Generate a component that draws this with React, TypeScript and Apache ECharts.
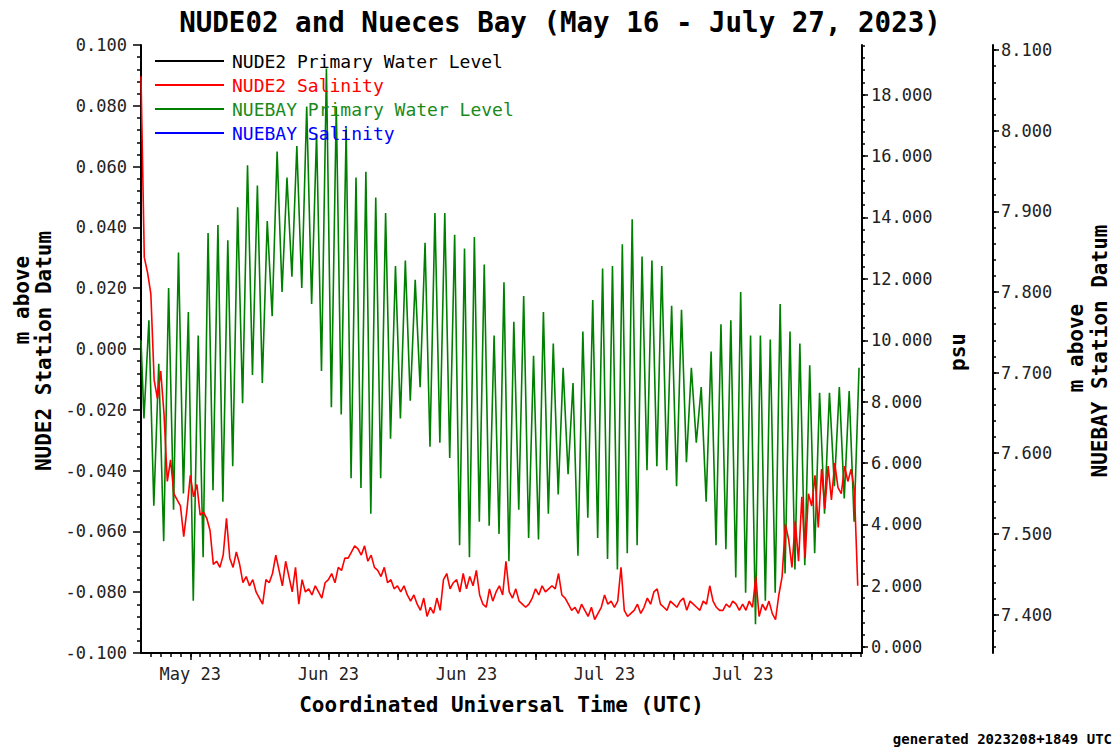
import React, { useEffect, useRef } from "react";
import * as echarts from "echarts";

// ---- data (days since 2023-05-16 00:00 UTC) ----
const TITLE = "NUDE02 and Nueces Bay (May 16 - July 27, 2023)";
const X_LABEL_DAYS = [5, 19, 33, 47, 61];
const X_LABELS = ["May 23", "Jun 23", "Jun 23", "Jul 23", "Jul 23"];
const X_MAX_DAYS = 73.1;

const LEFT_TICKS_MIN = -0.1;
const LEFT_TICKS_MAX = 0.1;
const PSU_MIN = -0.19;
const PSU_MAX = 19.62;
const PSU_TICKS = [0, 2, 4, 6, 8, 10, 12, 14, 16, 18];
const NUEBAY_MIN = 7.3523;
const NUEBAY_MAX = 8.1062;
const NUEBAY_TICKS = [7.4, 7.5, 7.6, 7.7, 7.8, 7.9, 8.0, 8.1];

// NUDE2 salinity (psu), sampled every 8 hours from May 16 00:00
const SAL_SAMPLES_PER_DAY = 3;
const NUDE2_SALINITY = [
  18.6, 12.7, 12.2, 11.5, 8.7, 8.1, 9.0, 7.6, 5.4, 6.1, 5.0, 4.8,
  4.6, 3.6, 4.5, 5.6, 4.9, 5.3, 4.3, 4.4, 4.2, 3.8, 2.7, 2.8,
  2.6, 3.0, 4.2, 2.9, 2.6, 3.1, 2.7, 2.1, 2.3, 2.0, 2.2, 1.8,
  1.6, 1.4, 2.2, 2.1, 2.4, 3.0, 2.5, 2.0, 2.8, 2.3, 1.8, 2.6,
  1.4, 2.2, 1.8, 1.9, 1.7, 2.0, 1.8, 1.6, 2.1, 2.2, 2.4, 2.1,
  2.6, 2.5, 2.9, 2.9, 3.1, 3.3, 3.2, 3.0, 3.3, 2.8, 3.0, 2.6,
  2.5, 2.3, 2.6, 2.1, 2.2, 1.9, 2.0, 1.8, 2.0, 1.7, 1.5, 1.7,
  1.4, 1.2, 1.6, 1.0, 1.3, 1.1, 1.6, 1.2, 2.2, 2.4, 1.9, 2.1,
  2.2, 1.8, 2.4, 1.9, 2.3, 2.0, 2.5, 1.7, 1.4, 1.3, 1.9, 1.5,
  1.8, 2.0, 1.7, 2.8, 1.8, 1.6, 1.9, 1.5, 1.4, 1.3, 1.4, 1.6,
  1.9, 1.7, 2.0, 1.8, 1.9, 2.0, 1.9, 2.4, 1.7, 1.6, 1.4, 1.2,
  1.3, 1.1, 1.4, 1.2, 1.0, 1.3, 0.9, 1.1, 1.3, 1.7, 1.4, 1.5,
  1.3, 1.5, 2.6, 1.2, 1.0, 1.1, 1.2, 1.4, 1.1, 1.3, 1.6, 1.4,
  1.8, 1.9, 1.4, 1.3, 1.2, 1.5, 1.4, 1.3, 1.5, 1.6, 1.2, 1.5,
  1.4, 1.3, 1.2, 1.5, 1.4, 2.0, 1.5, 1.3, 1.2, 1.2, 1.4, 1.3,
  1.5, 1.4, 1.2, 1.4, 1.2, 1.5, 1.3, 2.3, 1.0, 1.4, 1.2, 1.5,
  1.1, 0.9, 1.7, 2.3, 4.0, 3.5, 2.6, 4.1, 2.8, 4.9, 2.9, 5.0,
  4.6, 5.6, 3.9, 5.8, 4.5, 5.9, 4.8, 6.0, 5.2, 5.0, 5.9, 5.4,
  5.8, 5.1, 2.0,
];

// NUEBAY primary water level (m above station datum): start, daily lows and highs
const NUEBAY_START = 7.74;
const LOW_TIME_OF_DAY = 0.3;
const HIGH_TIME_OF_DAY = 0.8;
const NUEBAY_DAILY_LOW = [
  7.643, 7.535, 7.491, 7.53, 7.55, 7.417, 7.471, 7.554, 7.54, 7.584,
  7.662, 7.697, 7.687, 7.77, 7.8, 7.819, 7.805, 7.785, 7.702, 7.657,
  7.648, 7.569, 7.557, 7.525, 7.569, 7.618, 7.643, 7.665, 7.682, 7.608,
  7.613, 7.594, 7.486, 7.471, 7.515, 7.51, 7.5, 7.466, 7.53, 7.495,
  7.493, 7.525, 7.549, 7.574, 7.473, 7.52, 7.495, 7.469, 7.456, 7.476,
  7.486, 7.579, 7.584, 7.579, 7.559, 7.589, 7.613, 7.54, 7.486, 7.481,
  7.446, 7.427, 7.388, 7.417, 7.427, 7.451, 7.456, 7.461, 7.476, 7.525,
  7.559, 7.544, 7.515,
];
const NUEBAY_DAILY_HIGH = [
  7.765, 7.711, 7.805, 7.849, 7.775, 7.746, 7.873, 7.883, 7.864, 7.905,
  7.957, 7.932, 7.888, 7.974, 7.942, 7.981, 8.03, 7.996, 8.077, 8.03,
  8.003, 7.942, 7.949, 7.917, 7.898, 7.832, 7.839, 7.815, 7.861, 7.898,
  7.898, 7.871, 7.854, 7.868, 7.834, 7.746, 7.812, 7.763, 7.795, 7.721,
  7.775, 7.736, 7.706, 7.687, 7.751, 7.79, 7.829, 7.832, 7.859, 7.89,
  7.844, 7.839, 7.832, 7.783, 7.778, 7.706, 7.682, 7.726, 7.76, 7.765,
  7.8, 7.746, 7.746, 7.741, 7.785, 7.751, 7.736, 7.709, 7.675, 7.675,
  7.682, 7.677, 7.706,
];

const MONO = "DejaVu Sans Mono";

function fmt3(v: number) {
  if (Math.abs(v) < 1e-9) return "0.000";
  return v.toFixed(3);
}

export default function App() {
  const ref = useRef<HTMLDivElement>(null);

  useEffect(() => {
    if (!ref.current) return;
    const chart = echarts.init(ref.current, undefined, { renderer: "svg" });

    const salData = NUDE2_SALINITY.map((v, i) => [i / SAL_SAMPLES_PER_DAY, v]);
    const wlData: number[][] = [[0, NUEBAY_START]];
    for (let d = 0; d < NUEBAY_DAILY_LOW.length; d++) {
      wlData.push([d + LOW_TIME_OF_DAY, NUEBAY_DAILY_LOW[d]]);
      wlData.push([d + HIGH_TIME_OF_DAY, NUEBAY_DAILY_HIGH[d]]);
    }

    const weekTicks: number[] = [];
    for (let d = 5; d <= 73; d += 7) weekTicks.push(d);
    const dayTicks: number[] = [];
    for (let d = 1; d <= 73; d++) dayTicks.push(d);
    const psuMinor: number[] = [];
    for (let k = 0; k <= 49; k++) psuMinor.push((k * 4) / 10);
    const nbMinor: number[] = [];
    for (let k = 0; k <= 37; k++) nbMinor.push((736 + 2 * k) / 100);

    const black = "#000";
    const tickLabel = { fontFamily: MONO, fontSize: 17, color: "#222" };
    const axisLineOn = { show: true, onZero: false, lineStyle: { color: black, width: 2 } };
    const axisLineOff = { show: false, onZero: false };

    chart.setOption({
      animation: false,
      backgroundColor: "#fff",
      title: {
        text: TITLE,
        left: "center",
        top: 3,
        textStyle: { fontFamily: MONO, fontWeight: "bold", fontSize: 27.5, color: "#000" },
      },
      legend: {
        orient: "vertical",
        left: 150,
        top: 47,
        icon: "rect",
        itemWidth: 69,
        itemHeight: 2,
        itemGap: 6,
        selectedMode: false,
        textStyle: { fontFamily: MONO, fontSize: 18, lineHeight: 18, padding: [0, 0, 0, 3] },
        data: [
          { name: "NUDE2 Primary Water Level", textStyle: { color: "#000" } },
          { name: "NUDE2 Salinity", textStyle: { color: "#ff0000" } },
          { name: "NUEBAY Primary Water Level", textStyle: { color: "#1a8a1a" } },
          { name: "NUEBAY Salinity", textStyle: { color: "#0000ff" } },
        ],
      },
      grid: { left: 141, top: 45, width: 721, height: 608 },
      xAxis: [
        {
          type: "value",
          min: 0,
          max: X_MAX_DAYS,
          position: "bottom",
          name: "Coordinated Universal Time (UTC)",
          nameLocation: "middle",
          nameGap: 41,
          nameTextStyle: { fontFamily: MONO, fontWeight: "bold", fontSize: 21, color: "#000" },
          splitLine: { show: false },
          axisLine: axisLineOn,
          axisTick: { show: true, customValues: weekTicks, length: 7, lineStyle: { color: black, width: 1.5 } },
          axisLabel: {
            ...tickLabel,
            margin: 12,
            customValues: X_LABEL_DAYS,
            formatter: (v: number) => {
              const i = X_LABEL_DAYS.indexOf(Math.round(v));
              return i >= 0 ? X_LABELS[i] : "";
            },
          },
        },
        {
          type: "value",
          min: 0,
          max: X_MAX_DAYS,
          position: "bottom",
          splitLine: { show: false },
          axisLine: axisLineOff,
          axisTick: { show: true, customValues: dayTicks, length: 4, lineStyle: { color: black, width: 1.5 } },
          axisLabel: { show: false },
        },
      ],
      yAxis: [
        {
          type: "value",
          position: "left",
          min: LEFT_TICKS_MIN,
          max: LEFT_TICKS_MAX,
          interval: 0.02,
          splitLine: { show: false },
          axisLine: axisLineOn,
          axisTick: { show: true, length: 8, lineStyle: { color: black, width: 1.5 } },
          minorTick: { show: true, splitNumber: 5, length: 4, lineStyle: { color: black, width: 1.5 } },
          axisLabel: { ...tickLabel, margin: 14, formatter: (v: number) => fmt3(v) },
        },
        {
          type: "value",
          position: "right",
          offset: 0,
          min: PSU_MIN,
          max: PSU_MAX,
          splitLine: { show: false },
          axisLine: axisLineOn,
          axisTick: { show: true, customValues: PSU_TICKS, length: 6, lineStyle: { color: black, width: 1.5 } },
          axisLabel: { ...tickLabel, margin: 9, customValues: PSU_TICKS, formatter: (v: number) => fmt3(v) },
        },
        {
          type: "value",
          position: "right",
          offset: 0,
          min: PSU_MIN,
          max: PSU_MAX,
          splitLine: { show: false },
          axisLine: axisLineOff,
          axisTick: { show: true, customValues: psuMinor, length: 3, lineStyle: { color: black, width: 1.5 } },
          axisLabel: { show: false },
        },
        {
          type: "value",
          position: "right",
          offset: 131,
          min: NUEBAY_MIN,
          max: NUEBAY_MAX,
          splitLine: { show: false },
          axisLine: axisLineOn,
          axisTick: { show: true, customValues: NUEBAY_TICKS, length: 6, lineStyle: { color: black, width: 1.5 } },
          axisLabel: { ...tickLabel, margin: 8, customValues: NUEBAY_TICKS, formatter: (v: number) => fmt3(v) },
        },
        {
          type: "value",
          position: "right",
          offset: 131,
          min: NUEBAY_MIN,
          max: NUEBAY_MAX,
          splitLine: { show: false },
          axisLine: axisLineOff,
          axisTick: { show: true, customValues: nbMinor, length: 3, lineStyle: { color: black, width: 1.5 } },
          axisLabel: { show: false },
        },
      ],
      series: [
        {
          name: "NUDE2 Primary Water Level",
          type: "line",
          yAxisIndex: 0,
          symbol: "none",
          data: [],
          lineStyle: { color: "#000", width: 1.5 },
          itemStyle: { color: "#000" },
        },
        {
          name: "NUEBAY Primary Water Level",
          type: "line",
          yAxisIndex: 3,
          symbol: "none",
          data: wlData,
          lineStyle: { color: "#008000", width: 1.6 },
          itemStyle: { color: "#008000" },
        },
        {
          name: "NUDE2 Salinity",
          type: "line",
          yAxisIndex: 1,
          symbol: "none",
          data: salData,
          lineStyle: { color: "#ff0000", width: 1.6 },
          itemStyle: { color: "#ff0000" },
        },
        {
          name: "NUEBAY Salinity",
          type: "line",
          yAxisIndex: 1,
          symbol: "none",
          data: [],
          lineStyle: { color: "#0000ff", width: 1.5 },
          itemStyle: { color: "#0000ff" },
        },
      ],
      graphic: [
        {
          type: "text",
          x: 22,
          y: 300,
          rotation: Math.PI / 2,
          style: { text: "m above", fontFamily: MONO, fontWeight: "bold", fontSize: 21, fill: "#000", align: "center", verticalAlign: "middle" },
        },
        {
          type: "text",
          x: 44,
          y: 351,
          rotation: Math.PI / 2,
          style: { text: "NUDE2 Station Datum", fontFamily: MONO, fontWeight: "bold", fontSize: 21, fill: "#000", align: "center", verticalAlign: "middle" },
        },
        {
          type: "text",
          x: 958,
          y: 352,
          rotation: Math.PI / 2,
          style: { text: "psu", fontFamily: MONO, fontWeight: "bold", fontSize: 21, fill: "#000", align: "center", verticalAlign: "middle" },
        },
        {
          type: "text",
          x: 1076,
          y: 348,
          rotation: Math.PI / 2,
          style: { text: "m above", fontFamily: MONO, fontWeight: "bold", fontSize: 21, fill: "#000", align: "center", verticalAlign: "middle" },
        },
        {
          type: "text",
          x: 1100,
          y: 351,
          rotation: Math.PI / 2,
          style: { text: "NUEBAY Station Datum", fontFamily: MONO, fontWeight: "bold", fontSize: 21, fill: "#000", align: "center", verticalAlign: "middle" },
        },
        {
          type: "text",
          x: 1112,
          y: 739,
          style: { text: "generated 2023208+1849 UTC", fontFamily: MONO, fontWeight: "bold", fontSize: 14, fill: "#000", align: "right", verticalAlign: "middle" },
        },
      ],
    });

    return () => chart.dispose();
  }, []);

  return (
    <div
      ref={ref}
      style={{ position: "fixed", left: 0, top: 0, width: 1120, height: 749, background: "#fff" }}
    />
  );
}
